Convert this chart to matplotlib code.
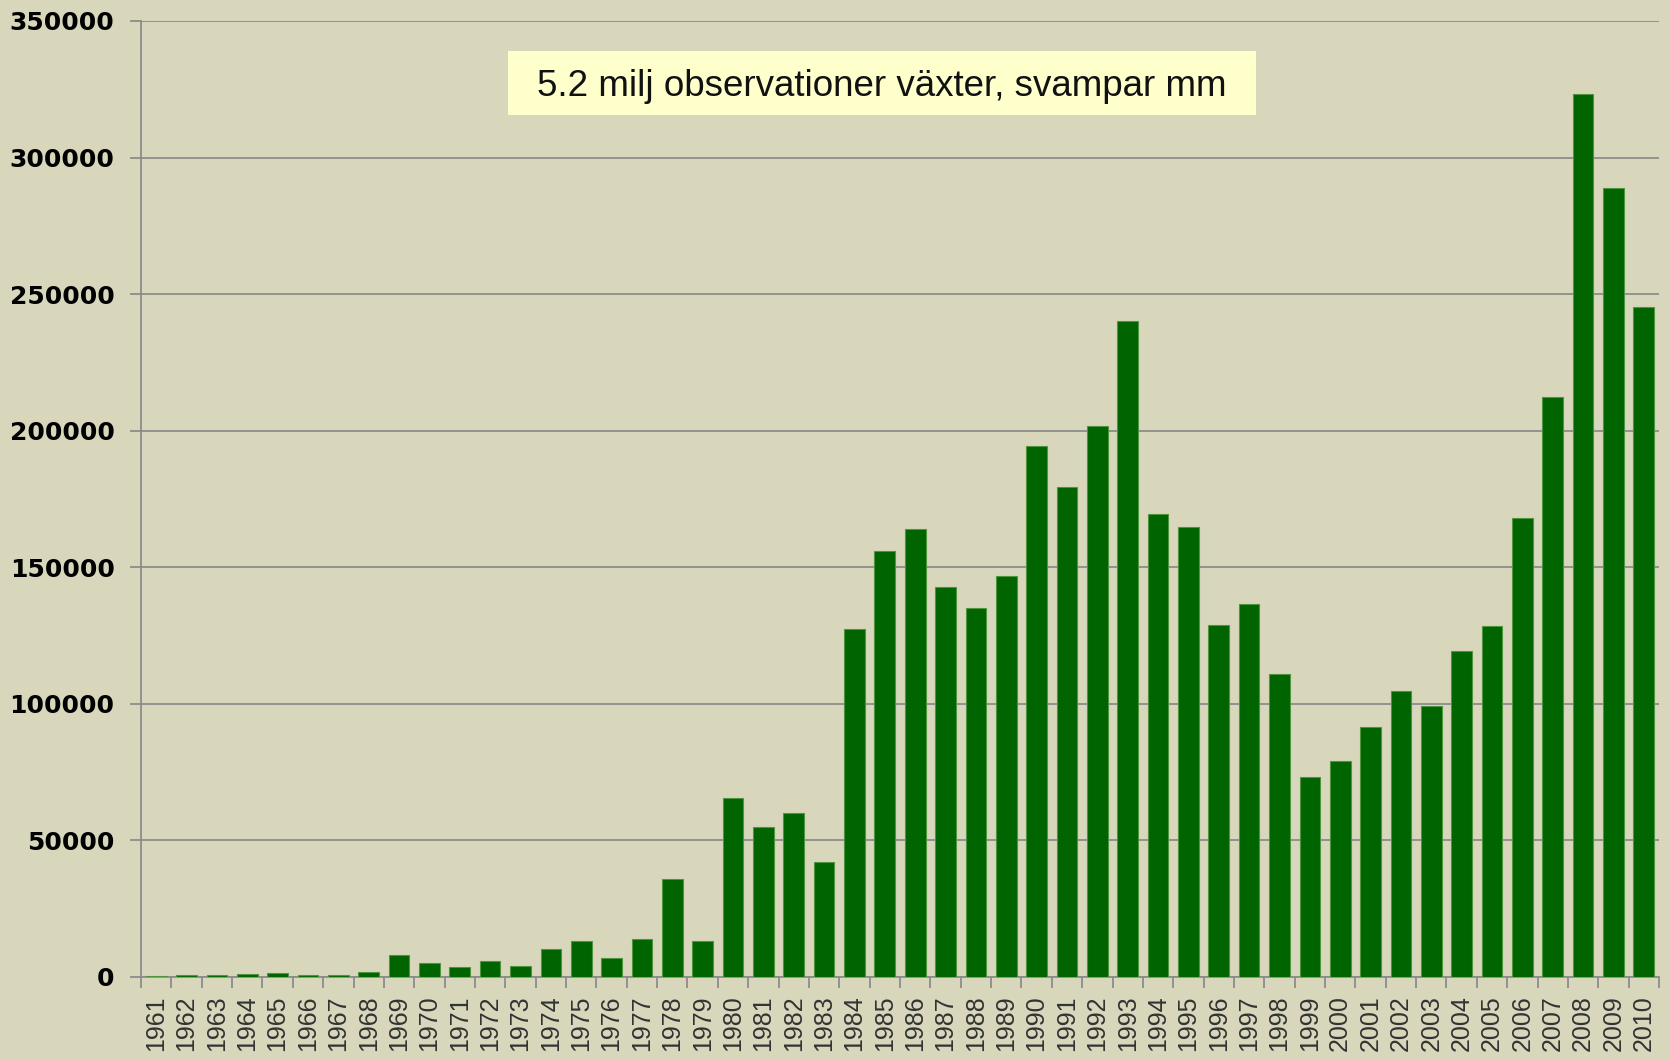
import numpy as np
import matplotlib
matplotlib.use('Agg')
import matplotlib.pyplot as plt
from matplotlib.patches import Rectangle

years = [str(y) for y in range(1961, 2011)]
counts = [500, 600, 600, 1100, 1350, 850, 600, 1800, 7900, 5000,
          3550, 5850, 4150, 10250, 13050, 7070, 14000, 35900, 13200, 65700,
          54800, 60100, 42200, 127300, 156100, 163900, 142900, 135100, 146800, 194300,
          179500, 201700, 240200, 169400, 164700, 128900, 136700, 111000, 73200, 79000,
          91500, 104700, 99300, 119500, 128500, 168200, 212200, 323100, 288900, 245300]
yticks = [0, 50000, 100000, 150000, 200000, 250000, 300000, 350000]
title = '5.2 milj observationer växter, svampar mm'

bg = '#d8d7bc'
grid_c = '#8c8c8c'
sans = ['Liberation Sans', 'DejaVu Sans']

fig = plt.figure(figsize=(16.69, 10.6), dpi=100, facecolor=bg)
ax = fig.add_axes([141/1669, 1-977/1060, (1659-141)/1669, (977-21)/1060])
ax.set_facecolor(bg)

x = np.arange(len(years))
ax.bar(x, counts, width=0.68, color='#006400', edgecolor='#4f9440', linewidth=0.8, zorder=3)

ax.set_xlim(-0.5, len(years)-0.5)
ax.set_ylim(0, 350000)

# y axis
ax.set_yticks(yticks)
ax.set_yticklabels([str(v) for v in yticks], fontsize=18, fontweight='bold',
                   family='DejaVu Sans', color='black')
ax.yaxis.grid(True, color=grid_c, linewidth=1.3, zorder=0)
ax.tick_params(axis='y', direction='out', length=8, width=1.3, color=grid_c, pad=11)

# x axis: labels under bars, tick marks between
ax.set_xticks(x)
ax.set_xticklabels(years, rotation=90, fontsize=18, family=sans, color='#333333')
ax.set_xticks(np.arange(-0.5, len(years)), minor=True)
ax.tick_params(axis='x', which='major', length=0, pad=13)
ax.tick_params(axis='x', which='minor', direction='out', length=8, width=1.3, color=grid_c)

for s in ['top', 'right']:
    ax.spines[s].set_visible(False)
for s in ['left', 'bottom']:
    ax.spines[s].set_color(grid_c)
    ax.spines[s].set_linewidth(1.3)
ax.set_axisbelow(True)

# title box
fig.patches.append(Rectangle((508/1669, 1-115/1060), (1256-508)/1669, 64/1060,
                             transform=fig.transFigure, facecolor='#ffffcc',
                             edgecolor='none', zorder=5))
fig.text(882/1669, 1-87/1060, title, ha='center', va='center', fontsize=26.5,
         family=sans, color='#111111', zorder=6)

plt.savefig('out.png', dpi=100, facecolor=bg)
